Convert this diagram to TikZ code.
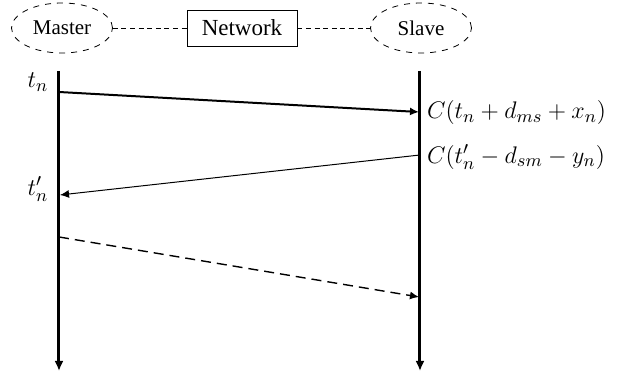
\documentclass[tikz,border=0pt]{standalone}
\usepackage{fontspec}
\newfontfamily\timesfont{Liberation Serif}
\usetikzlibrary{arrows.meta, shapes.geometric, positioning}

\tikzset{
  entity/.style={draw, dashed, ellipse, minimum width=50.5pt,
                 minimum height=25pt, inner sep=0pt,
                 font=\timesfont\fontsize{10.5}{12}\selectfont},
  netbox/.style={draw, rectangle, minimum width=55pt, minimum height=18pt,
                 inner sep=0pt, font=\timesfont\fontsize{11.5}{13}\selectfont},
  link/.style={line width=0.4pt, dash pattern=on 2.5pt off 1.8pt},
  timeline/.style={line width=1.5pt, -{Latex[length=5pt, width=4.5pt]}},
  msg/.style={-{Latex[length=4.5pt, width=4pt]}},
  stamp/.style={font=\fontsize{13}{15}\selectfont},
}

\begin{document}
\begin{tikzpicture}[x=0.5pt, y=-0.5pt]
  \useasboundingbox (0,0) rectangle (634,378);

  % header
  \node[entity] (master)  at (62,28)  {Master};
  \node[netbox] (network) at (242,28) {Network};
  \node[entity] (slave)   at (421,28) {Slave};
  \draw[link] (master) -- (network);
  \draw[link] (network) -- (slave);

  % time lines
  \coordinate (mastertop) at (59,71);
  \coordinate (masterbot) at (59,371);
  \coordinate (slavetop)  at (420,71);
  \coordinate (slavebot)  at (420,371);
  \draw[timeline] (mastertop) -- (masterbot);
  \draw[timeline] (slavetop) -- (slavebot);

  % message end points
  \coordinate (sync)    at (59,92);
  \coordinate (syncin)  at (419,112);
  \coordinate (reply)   at (420,155);
  \coordinate (replyin) at (60,195);
  \coordinate (next)    at (59,237);
  \coordinate (nextin)  at (419,297);

  \draw[msg, line width=1pt] (sync) -- (syncin);
  \draw[msg, line width=0.5pt] (reply) -- (replyin);
  \draw[msg, line width=0.7pt, dash pattern=on 5pt off 3pt] (next) -- (nextin);

  % labels
  \node[stamp] (tn)  at (38,82)  {$t_n$};
  \node[stamp] (tnp) at (38,189) {$t'_n$};
  \node[stamp, anchor=west] (recv) at (420,113) {$C(t_n + d_{ms} + x_n)$};
  \node[stamp, anchor=west] (send) at (420,157) {$C(t'_n - d_{sm} - y_n)$};
\end{tikzpicture}
\end{document}
